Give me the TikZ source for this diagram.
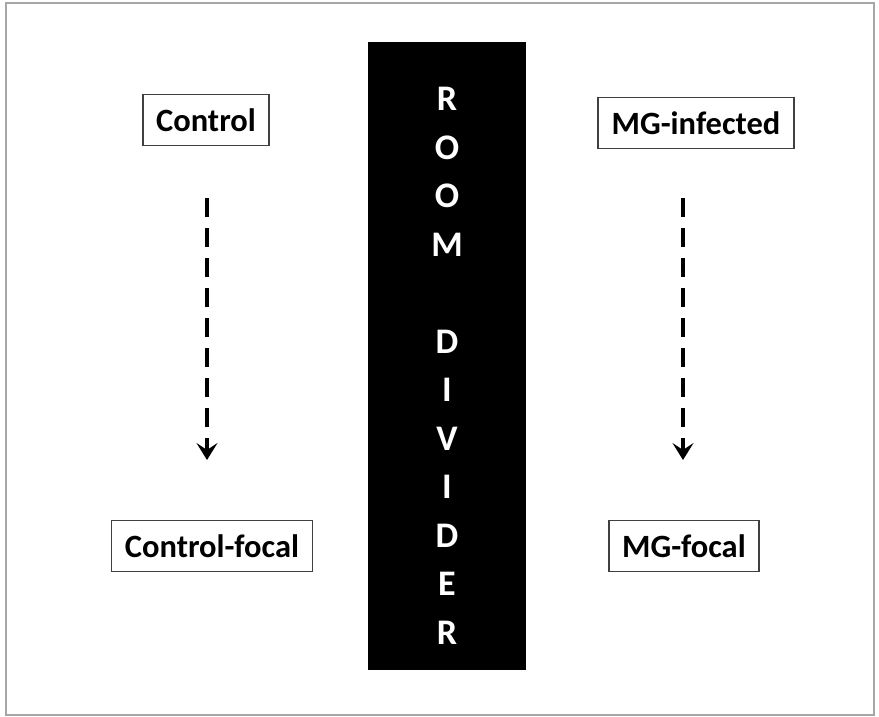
\documentclass[tikz,border=0pt]{standalone}
\usepackage{fontspec}
\setmainfont{Carlito}
\usetikzlibrary{arrows.meta}

\tikzset{
  label box/.style={draw=black!75, line width=1.3pt, fill=white, inner sep=0pt,
    minimum height=51pt, font=\fontsize{32.5}{36}\selectfont\bfseries},
  move/.style={line width=4.5pt, dash pattern=on 19pt off 11pt,
    -{Stealth[length=17pt,width=21pt,inset=7pt]}}
}

\begin{document}
\begin{tikzpicture}[x=1pt,y=-1pt]
            % Frame
            \useasboundingbox (0,0) rectangle (879,717);
            \draw[black!35, line width=1.5pt] (6,3) rectangle (874,715);

            % Room divider
            \node[fill=black, minimum width=158pt, minimum height=628pt, inner sep=0pt] (wall) at (447,356) {};
            \node[text=white, align=center, font=\fontsize{36}{48.5}\selectfont\bfseries] (words) at (447,366)
              {R\\O\\O\\M\\ \\D\\I\\V\\I\\D\\E\\R};

            % Top boxes
            \node[label box, minimum width=126pt] (ctrl) at (206,120) {Control};
            \node[label box, minimum width=196pt] (mg) at (696,123) {MG-infected};

            % Bottom boxes
            \node[label box, minimum width=201pt] (ctrlfocal) at (212,546) {Control-focal};
            \node[label box, minimum width=150pt] (mgfocal) at (684,546) {MG-focal};

            % Arrow ends
            \coordinate (c1) at (207,198);
            \coordinate (c2) at (207,460);
            \coordinate (m1) at (683,198);
            \coordinate (m2) at (683,460);

            % Arrows
            \draw[move] (c1) -- (c2);
            \draw[move] (m1) -- (m2);

        \end{tikzpicture}
\end{document}
